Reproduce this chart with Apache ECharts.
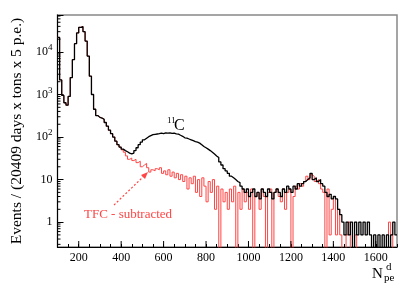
<!DOCTYPE html>
<html>
<head>
<meta charset="utf-8">
<script src="https://cdn.jsdelivr.net/npm/echarts@6/dist/echarts.min.js"></script>
<style>
html,body{margin:0;padding:0;background:#fff;}
#c{width:415px;height:297px;}
</style>
</head>
<body>
<div id="c"></div>
<script>
// ---- data (bins of 10 p.e., lower edges from 100) ----
const binStart = 100;
const binWidth = 10;
const blackCounts = [
  22000, 2200, 950, 640, 560, 900, 2500, 6600, 15700, 28000,
  38000, 39500, 30000, 18000, 8000, 2700, 1000, 450, 320, 290,
  280, 260, 220, 180, 145, 120, 100, 80, 66, 58,
  52, 48, 45, 42, 40, 42, 48, 56, 66, 76,
  86, 94, 102, 108, 114, 116, 118, 120, 124, 121,
  126, 123, 125, 122, 124, 119, 117, 110, 104, 96,
  94, 90, 86, 82, 78, 76, 72, 66, 60, 56,
  52, 48, 44, 40, 36, 33, 26, 22, 18, 16,
  14, 12, 11, 10, 9, 8.5, 7, 6, 5, 6,
  4, 5, 6, 4, 5, 3.5, 6, 5, 4, 6,
  5, 3.5, 5, 6, 5, 4, 6, 5, 7, 6,
  5, 7, 6, 8, 7, 8, 9, 10, 11, 14,
  10, 11, 9, 10, 8, 7, 5, 4, 4.5, 3.5,
  4, 3.5, 2, 1.5, 1, 0.5, 1, 0.5, 1, 0,
  1, 0.5, 1, 0.5, 1, 0.5, 1, 0.5, 0, 0.5,
  0, 0.5, 0, 0.5, 0, 0.5, 0, 0.5, 1, 0.5
];
// TFC-subtracted spectrum: identical to the black one below 400 p.e.
const redFrom400 = [
  50, 44, 36, 30, 32, 28, 30, 25, 27, 20,
  22, 24, 19, 15, 17, 16, 18, 17, 19, 14,
  16, 13, 17, 12, 15, 11, 14, 10, 13, 9,
  12, 6, 11, 8, 12, 5, 10, 4, 11, 7,
  3, 9, 5, 10, 2, 7, 0, 6, 3, 5,
  2, 6, 3, 7, 0, 5, 2, 6, 3, 5,
  2, 6, 0, 4, 5, 2, 6, 4, 0, 5,
  6, 0, 5, 6, 4, 3, 6, 2, 5, 6,
  0, 4, 7, 6, 8, 7, 9, 12, 10, 13,
  12, 9, 10, 8, 6, 5, 0, 6, 0.5, 2,
  4, 0.5, 2, 0.5, 0, 0, 0.5, 1, 0, 0,
  0.5, 0, 0, 0, 0, 0, 0, 0, 0, 0,
  0, 0, 0, 0, 0, 0, 1, 0.5, 0, 0
];
const redCounts = blackCounts.slice(0, 30).concat(redFrom400);
const xMin = 100, xMax = 1700;
const yMin = 0.26, yMax = 74000;
const xMajorTicks = [200, 400, 600, 800, 1000, 1200, 1400, 1600];

function stepData(counts) {
  const d = counts.map((v, i) => [binStart + i * binWidth, v > 0 ? v : 0.01]);
  const last = counts[counts.length - 1];
  d.push([binStart + counts.length * binWidth, last > 0 ? last : 0.01]);
  return d;
}
// log minor tick positions 2..9 x 10^n inside the range
const yMinorTicks = [];
for (let n = -1; n <= 4; n++) for (let k = 2; k <= 9; k++) {
  const v = k * Math.pow(10, n);
  if (v > yMin && v < yMax) yMinorTicks.push([xMin, v]);
}

const serif = 'Liberation Serif';
const red = '#ff4545';
const chart = echarts.init(document.getElementById('c'), null, {renderer: 'canvas'});
chart.setOption({
  animation: false,
  backgroundColor: '#fff',
  grid: {left: 57.5, top: 15, right: 18, bottom: 50, show: true, borderColor: '#888', borderWidth: 1.5, backgroundColor: 'transparent'},
  xAxis: {
    type: 'value', min: xMin, max: xMax, interval: 50,
    axisLine: {show: true, lineStyle: {color: '#000', width: 1}},
    axisTick: {show: true, inside: true, length: 3, lineStyle: {color: '#000'}},
    splitLine: {show: false},
    axisLabel: {
      fontFamily: serif, fontSize: 12, color: '#000', margin: 5,
      formatter: v => (v % 200 === 0 ? String(v) : '')
    }
  },
  yAxis: {
    type: 'log', min: yMin, max: yMax, logBase: 10,
    name: 'Events / (20409 days x tons x 5 p.e.)',
    nameLocation: 'middle', nameRotate: 90, nameGap: 28,
    nameTextStyle: {fontFamily: serif, fontSize: 15.5, color: '#000'},
    axisLine: {show: true, lineStyle: {color: '#000', width: 1}},
    axisTick: {show: true, inside: true, length: 6, lineStyle: {color: '#000'}},
    splitLine: {show: false},
    axisLabel: {
      fontFamily: serif, fontSize: 12, color: '#000', margin: 5,
      formatter: v => {
        const e = Math.log10(v), n = Math.round(e);
        if (Math.abs(e - n) > 1e-6) return '';
        if (n === 0) return '1';
        if (n === 1) return '10';
        return '10{s|' + n + '}';
      },
      rich: {s: {fontFamily: serif, fontSize: 9, color: '#000', padding: [0, 0, 8, 0]}}
    }
  },
  series: [
    {
      type: 'line', step: 'end', data: stepData(redCounts), symbol: 'none',
      lineStyle: {color: red, width: 1}, z: 2, clip: true
    },
    {
      type: 'line', step: 'end', data: stepData(blackCounts), symbol: 'none',
      lineStyle: {color: '#000', width: 1.3}, z: 3, clip: true
    },
    {
      type: 'custom', data: yMinorTicks, z: 5, silent: true,
      renderItem: (params, api) => {
        const p = api.coord([api.value(0), api.value(1)]);
        return {type: 'line', shape: {x1: p[0], y1: p[1], x2: p[0] + 3, y2: p[1]}, style: {stroke: '#000', lineWidth: 1}};
      }
    },
    {
      type: 'custom', data: xMajorTicks.map(v => [v, yMin]), z: 5, silent: true,
      renderItem: (params, api) => {
        const p = api.coord([api.value(0), api.value(1)]);
        return {type: 'line', shape: {x1: p[0], y1: p[1], x2: p[0], y2: p[1] - 6}, style: {stroke: '#000', lineWidth: 1}};
      }
    }
  ],
  graphic: [
    {type: 'text', left: 372, top: 267, style: {text: 'N', font: '15px "Liberation Serif"', fill: '#000'}},
    {type: 'text', left: 386, top: 262, style: {text: 'd', font: '11px "Liberation Serif"', fill: '#000'}},
    {type: 'text', left: 384, top: 273, style: {text: 'pe', font: '11px "Liberation Serif"', fill: '#000'}},
    {type: 'text', left: 167, top: 116, style: {text: '11', font: '9px "Liberation Serif"', fill: '#000'}},
    {type: 'text', left: 174, top: 118, style: {text: 'C', font: '16px "Liberation Serif"', fill: '#000'}},
    {type: 'text', left: 84, top: 208, style: {text: 'TFC - subtracted', font: '13px "Liberation Serif"', fill: red}},
    {type: 'line', shape: {x1: 114, y1: 205, x2: 145, y2: 175}, style: {stroke: red, lineWidth: 1.2, lineDash: [2, 2]}},
    {type: 'polygon', shape: {points: [[148, 172], [141, 175], [145, 179]]}, style: {fill: red}}
  ]
});
</script>
</body>
</html>
